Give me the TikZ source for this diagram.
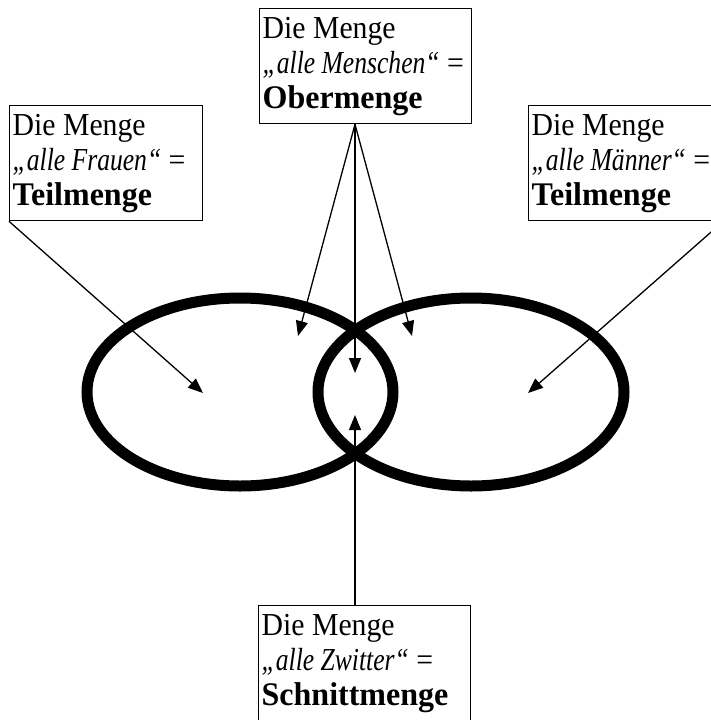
\documentclass[tikz,border=0pt]{standalone}
\usepackage{fontspec}
\setmainfont{Liberation Serif}[
  UprightFeatures={FakeStretch=0.93},
  ItalicFeatures={FakeStretch=0.8},
  BoldFeatures={FakeStretch=0.97}]
\usetikzlibrary{arrows.meta}

\newcommand{\mengetext}[2]{%
  Die~Menge\\
  \textit{„#1“}~=\\
  {\fontsize{33}{35}\selectfont\bfseries #2}}

\begin{document}
\begin{tikzpicture}[x=1pt,y=-1pt,
  menge/.style={draw,line width=1.3pt,anchor=north west,align=flush left,
    inner sep=3pt,minimum height=115pt,font=\fontsize{32}{35}\selectfont},
  pfeil/.style={line width=1.3pt,-{Triangle[length=15pt,width=12pt]}},
  kreis/.style={line width=11pt}]
\useasboundingbox (0,0) rectangle (711,720);
\clip (0,0) rectangle (711,720);

% die beiden Mengen
\draw[kreis] (240,392) ellipse [x radius=153, y radius=94];
\draw[kreis] (471,392) ellipse [x radius=153, y radius=94];

% Beschriftungen
\node[menge,text width=206pt] (ober) at (259,8) {\mengetext{alle~Menschen}{Obermenge}};
\node[menge,text width=187pt] (frauen) at (9,105) {\mengetext{alle~Frauen}{Teilmenge}};
\node[menge,text width=188pt] (maenner) at (528,105) {\mengetext{alle~Männer}{Teilmenge}};
\node[menge,text width=206pt] (zwitter) at (258,605) {\mengetext{alle~Zwitter}{Schnittmenge}};

% Pfeilspitzen
\coordinate (tipL) at (298,336);
\coordinate (tipM) at (355,373);
\coordinate (tipR) at (412,336);
\coordinate (tipF) at (203,393);
\coordinate (tipMa) at (528,393);
\coordinate (tipZ) at (355,415);

\draw[pfeil] (ober.south -| tipM) -- (tipL);
\draw[pfeil] (ober.south -| tipM) -- (tipM);
\draw[pfeil] (ober.south -| tipM) -- (tipR);
\draw[pfeil] (frauen.south west) -- (tipF);
\draw[pfeil] (maenner.south east) -- (tipMa);
\draw[pfeil] (zwitter.north -| tipZ) -- (tipZ);
\end{tikzpicture}
\end{document}
